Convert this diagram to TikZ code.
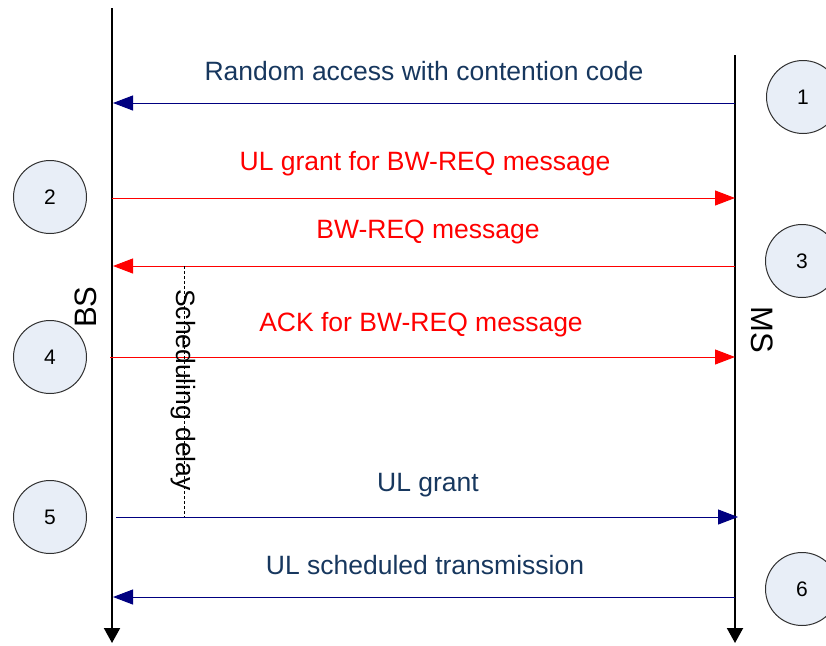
\documentclass[tikz,border=0pt]{standalone}
\usepackage{fontspec}
\setmainfont{Liberation Sans}
\usetikzlibrary{arrows.meta}
\definecolor{navytext}{HTML}{17375E}
\definecolor{navyline}{HTML}{000080}
\definecolor{circfill}{HTML}{E8EEF7}
\definecolor{circedge}{HTML}{303030}
\tikzset{
  lifeline/.style={draw=black, line width=2pt, -{Triangle[length=15pt,width=16pt]}},
  msgred/.style={draw=red, line width=1pt, -{Triangle[length=20pt,width=15pt]}},
  msgblue/.style={draw=navyline, line width=1pt, -{Triangle[length=20pt,width=15pt]}},
  lblred/.style={text=red, font=\fontsize{26.5}{30}\selectfont, inner sep=0pt},
  lblblue/.style={text=navytext, font=\fontsize{26.5}{30}\selectfont, inner sep=0pt},
  stepcirc/.style={circle, draw=circedge, line width=1pt, fill=circfill, minimum size=73pt, inner sep=0pt, font=\fontsize{21}{24}\selectfont},
  entity/.style={font=\fontsize{31}{34}\selectfont, inner sep=0pt},
}
\begin{document}
\begin{tikzpicture}[x=1pt, y=-1pt]
\useasboundingbox (0,0) rectangle (826,645);
% lifeline ends
\coordinate (bsTop) at (112,8);
\coordinate (bsBot) at (112,643);
\coordinate (msTop) at (735,55);
\coordinate (msBot) at (735,643);
\draw[lifeline] (bsTop) -- (bsBot);
\draw[lifeline] (msTop) -- (msBot);
\node[entity, rotate=90] (bs) at (86,307) {BS};
\node[entity, rotate=-90] (ms) at (762,330) {MS};
% message anchors
\coordinate (ms1) at (735,103); \coordinate (bs1) at (113,103);
\coordinate (bs2) at (112,198); \coordinate (ms2) at (735,198);
\coordinate (ms3) at (735,266); \coordinate (bs3) at (113,266);
\coordinate (bs4) at (110,357); \coordinate (ms4) at (735,357);
\coordinate (bs5) at (116,517); \coordinate (ms5) at (738,517);
\coordinate (ms6) at (735,597); \coordinate (bs6) at (113,597);
\draw[msgblue] (ms1) -- (bs1);
\draw[msgred] (bs2) -- (ms2);
\draw[msgred] (ms3) -- (bs3);
\draw[msgred] (bs4) -- (ms4);
\draw[msgblue] (bs5) -- (ms5);
\draw[msgblue] (ms6) -- (bs6);
% labels
\node[lblblue] (l1) at (424,71) {Random access with contention code};
\node[lblred] (l2) at (425,164) {UL grant for BW-REQ message};
\node[lblred] (l3) at (428,232) {BW-REQ message};
\node[lblred] (l4) at (421,325) {ACK for BW-REQ message};
\node[lblblue] (l5) at (428,485) {UL grant};
\node[lblblue] (l6) at (425,565) {UL scheduled transmission};
% scheduling delay
\coordinate (sdTop) at (184,266);
\coordinate (sdBot) at (184,517);
\draw[black, line width=0.8pt, dash pattern=on 3pt off 2pt] (sdTop) -- (sdBot);
\node[lblblue, text=black, rotate=-90] (sd) at (183,390) {Scheduling delay};
% step circles
\node[stepcirc] (c1) at (803,97) {1};
\node[stepcirc] (c2) at (50,197) {2};
\node[stepcirc] (c3) at (802,261) {3};
\node[stepcirc] (c4) at (50,357) {4};
\node[stepcirc] (c5) at (50,517) {5};
\node[stepcirc] (c6) at (802,589) {6};
\end{tikzpicture}
\end{document}
